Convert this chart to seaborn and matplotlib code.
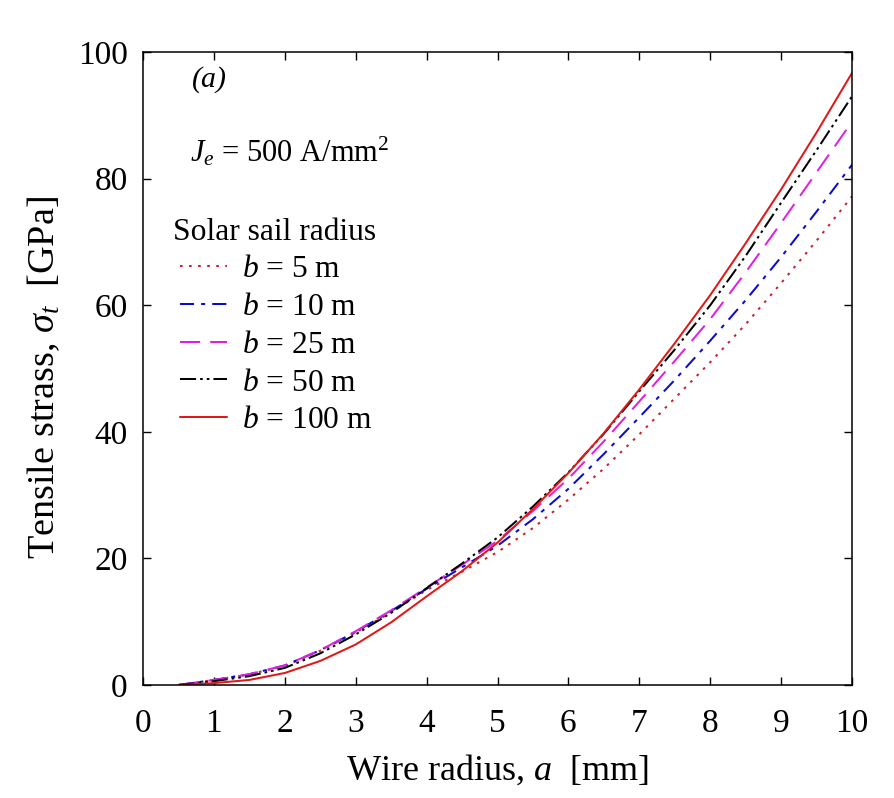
import numpy as np
import pandas as pd
import matplotlib
matplotlib.use("Agg")
import matplotlib.pyplot as plt
import seaborn as sns

# ---- data ----
wire_radius = [0.5, 1.0, 1.5, 2.0, 2.5, 3.0, 3.5, 4.0, 4.5, 5.0,
               5.5, 6.0, 6.5, 7.0, 7.5, 8.0, 8.5, 9.0, 9.5, 10.0]
stress_b5 = [0.0, 0.8, 1.7, 3.0, 5.4, 8.3, 11.5, 15.0, 17.9, 21.0,
             24.8, 29.3, 34.2, 39.6, 45.3, 51.0, 57.0, 63.5, 70.2, 77.2]
stress_b10 = [0.0, 0.8, 1.7, 3.1, 5.5, 8.4, 11.7, 15.2, 18.6, 22.0,
              26.2, 31.0, 36.5, 42.3, 48.2, 54.4, 60.8, 67.6, 74.8, 82.2]
stress_b25 = [0.0, 0.8, 1.7, 3.1, 5.5, 8.5, 11.8, 15.4, 19.0, 22.8,
              27.5, 32.6, 38.5, 44.8, 51.2, 57.8, 65.2, 73.0, 81.0, 89.0]
stress_b50 = [0.0, 0.6, 1.4, 2.7, 5.0, 8.0, 11.4, 15.3, 19.2, 23.3,
              28.2, 33.6, 39.7, 46.4, 53.0, 60.0, 67.8, 76.2, 84.5, 93.0]
stress_b100 = [0.0, 0.3, 0.8, 1.9, 3.8, 6.4, 9.9, 14.0, 18.0, 22.5,
               27.8, 33.5, 39.8, 46.7, 54.0, 61.6, 69.8, 78.3, 87.3, 96.7]
series_labels = ["$b$ = 5 m", "$b$ = 10 m", "$b$ = 25 m", "$b$ = 50 m", "$b$ = 100 m"]
x_ticks = [0, 1, 2, 3, 4, 5, 6, 7, 8, 9, 10]
y_ticks = [0, 20, 40, 60, 80, 100]

series_values = [stress_b5, stress_b10, stress_b25, stress_b50, stress_b100]
frames = []
for lab, vals in zip(series_labels, series_values):
    frames.append(pd.DataFrame({"a": wire_radius, "sigma": vals, "b": lab}))
df = pd.concat(frames, ignore_index=True)

sns.set_theme(style="ticks")
plt.rcParams["font.family"] = ["Liberation Serif", "DejaVu Serif"]
plt.rcParams["mathtext.fontset"] = "custom"
plt.rcParams["mathtext.rm"] = "Liberation Serif"
plt.rcParams["mathtext.it"] = "Liberation Serif:italic"
plt.rcParams["mathtext.bf"] = "Liberation Serif:bold"
plt.rcParams["text.color"] = "black"
plt.rcParams["axes.labelcolor"] = "black"
plt.rcParams["xtick.color"] = "black"
plt.rcParams["ytick.color"] = "black"

colors = {series_labels[0]: "#c8202c", series_labels[1]: "#0a0ad0",
          series_labels[2]: "#e020e0", series_labels[3]: "#000000",
          series_labels[4]: "#e01818"}
dashes = {series_labels[0]: (1.3, 3.2), series_labels[1]: (7, 3.5, 2, 3.5),
          series_labels[2]: (10, 5), series_labels[3]: (8, 2, 1.3, 2, 1.3, 2),
          series_labels[4]: ""}

fig = plt.figure(figsize=(8.95, 7.98), dpi=100)
ax = fig.add_axes([0.1598, 0.1416, 0.7922, 0.7932])

sns.lineplot(data=df, x="a", y="sigma", hue="b", style="b",
             palette=colors, dashes=dashes, hue_order=series_labels,
             style_order=series_labels, linewidth=1.45, legend=False, ax=ax,
             sort=False)

ax.set_xlim(0, 10)
ax.set_ylim(0, 100)
ax.set_xticks(x_ticks)
ax.set_yticks(y_ticks)
ax.tick_params(direction="in", length=6, width=1, top=True, right=True,
               labelsize=24, colors="black")
ax.tick_params(axis="x", pad=17)
ax.tick_params(axis="y", pad=11)
for s in ax.spines.values():
    s.set_linewidth(1.1)
    s.set_color("black")

ax.set_xlabel("Wire radius, $a$  [mm]", fontsize=26, labelpad=10)
ax.set_ylabel("Tensile strass, $\\sigma_t$  [GPa]", fontsize=27.5, labelpad=11)
ax.yaxis.label.set_y(0.486)

ax.text(0.69, 95.6, "(a)", fontsize=21.5, style="italic", va="center", ha="left")
ax.text(0.66, 84.3, "$J_e$ = 500 A/mm$^2$", fontsize=22, va="center", ha="left")
ax.text(0.42, 71.5, "Solar sail radius", fontsize=22.7, va="center", ha="left")

handles = ax.get_lines()[:5]
leg = ax.legend(handles, series_labels, loc="upper left",
                bbox_to_anchor=(0.052, 0.679), frameon=False, fontsize=22.7,
                handlelength=1.49, handletextpad=0.48,
                labelspacing=0.275, borderaxespad=0, borderpad=0)

fig.savefig("out.png", dpi=100)
